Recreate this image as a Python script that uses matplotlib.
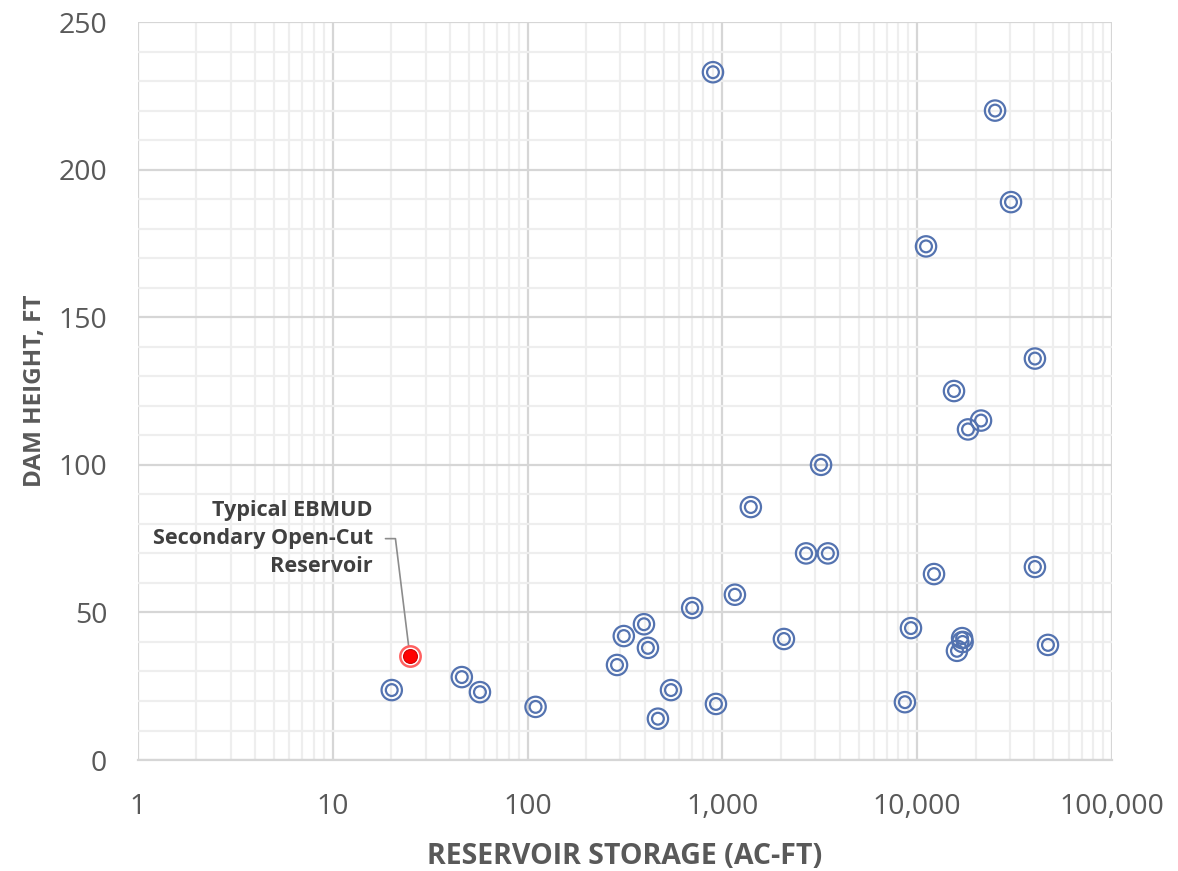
import numpy as np
import matplotlib.pyplot as plt
from matplotlib.ticker import FuncFormatter, LogLocator, MultipleLocator

plt.rcParams['font.family'] = ['Open Sans', 'DejaVu Sans']

# reservoir storage (ac-ft) and dam height (ft)
storage = [895, 25100, 30300, 11100, 40200, 15450, 21260, 18230, 3210, 1400,
           2690, 3480, 12200, 40200, 1160, 700, 396, 312, 415, 2070,
           9290, 17000, 17100, 16000, 46900, 288, 545, 467, 927, 8650,
           110, 57, 46, 20.1]
height = [233, 220, 189, 174, 136, 125, 115, 112, 100, 85.7,
          70, 70, 63, 65.4, 56, 51.5, 46, 42, 38, 41,
          44.7, 41.3, 40, 37, 39, 32.2, 23.7, 14, 19, 19.6,
          18, 23, 28.1, 23.7]

ebmud_storage = [24.9]
ebmud_height = [35.2]

xticks = [1, 10, 100, 1000, 10000, 100000]
yticks = [0, 50, 100, 150, 200, 250]

blue = '#5473B0'
grey_txt = '#595959'

fig = plt.figure(figsize=(11.78, 8.71), dpi=100)
ax = fig.add_axes([0.117, 0.1274, 0.827, 0.8473])

ax.set_xscale('log')
ax.set_xlim(1, 100000)
ax.set_ylim(0, 250)

# grid
ax.xaxis.set_major_locator(LogLocator(base=10, numticks=10))
ax.xaxis.set_minor_locator(LogLocator(base=10, subs=np.arange(2, 10), numticks=20))
ax.yaxis.set_major_locator(MultipleLocator(50))
ax.yaxis.set_minor_locator(MultipleLocator(10))
ax.grid(which='major', color='#D6D6D6', linewidth=1.6)
ax.grid(which='minor', color='#EEEEEE', linewidth=1.6)
ax.set_axisbelow(True)
for s in ['top', 'right', 'left']:
    ax.spines[s].set_visible(False)
ax.spines['bottom'].set_color('#D6D6D6')
ax.spines['bottom'].set_linewidth(1.6)

ax.set_xticks(xticks)
ax.set_yticks(yticks)
ax.xaxis.set_major_formatter(FuncFormatter(lambda v, p: f'{int(round(v)):,}'))
ax.tick_params(which='both', length=0)
ax.tick_params(axis='x', pad=24, labelsize=20.5, labelcolor=grey_txt)
ax.tick_params(axis='y', pad=22, labelsize=20.5, labelcolor=grey_txt)

# double-ring markers
ax.scatter(storage, height, s=215, facecolors='none', edgecolors=blue, linewidths=1.6, zorder=3)
ax.scatter(storage, height, s=72, facecolors='none', edgecolors=blue, linewidths=1.6, zorder=3)

# highlighted reservoir
ax.scatter(ebmud_storage, ebmud_height, s=215, facecolors='white', edgecolors='#FF6060', linewidths=1.8, zorder=4)
ax.scatter(ebmud_storage, ebmud_height, s=100, facecolors='#FF0000', edgecolors='#D00000', linewidths=0.8, zorder=5)

ax.annotate('Typical EBMUD\nSecondary Open-Cut\nReservoir',
            xy=(ebmud_storage[0], ebmud_height[0]), xytext=(16.1, 75),
            ha='right', va='center', fontsize=15.6, fontweight='bold', color='#404040',
            linespacing=1.45,
            arrowprops=dict(arrowstyle='-', color='#8C8C8C', lw=1.2,
                            connectionstyle='angle,angleA=0,angleB=97,rad=0',
                            relpos=(1, 0.5), shrinkA=7, shrinkB=2))

ax.set_xlabel('RESERVOIR STORAGE (AC-FT)', fontsize=20.5, fontweight='bold', color=grey_txt, labelpad=15)
ax.set_ylabel('DAM HEIGHT, FT', fontsize=17.5, fontweight='bold', color=grey_txt, labelpad=8)

fig.savefig('out.png', dpi=100)
